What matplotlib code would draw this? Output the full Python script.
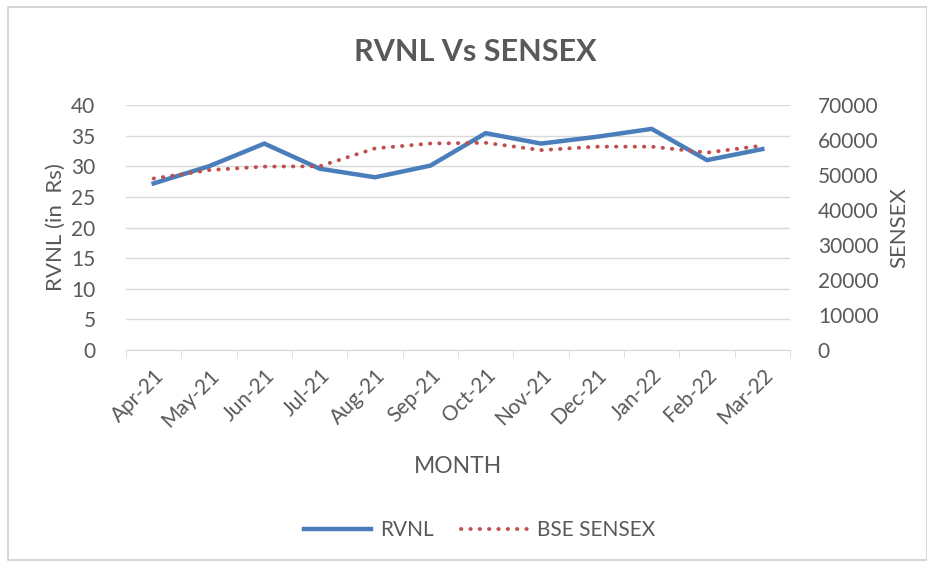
import matplotlib
matplotlib.use("Agg")
import matplotlib.pyplot as plt
from matplotlib.patches import Rectangle
from matplotlib.lines import Line2D
import numpy as np

months = ["Apr-21", "May-21", "Jun-21", "Jul-21", "Aug-21", "Sep-21",
          "Oct-21", "Nov-21", "Dec-21", "Jan-22", "Feb-22", "Mar-22"]
rvnl = [27.2, 30.0, 33.7, 29.6, 28.2, 30.1, 35.4, 33.7, 34.8, 36.1, 31.0, 32.8]
sensex = [49000, 51400, 52400, 52500, 57600, 59000, 59200, 57100, 58100, 58100, 56400, 58400]
left_ticks = [0, 5, 10, 15, 20, 25, 30, 35, 40]
right_ticks = [0, 10000, 20000, 30000, 40000, 50000, 60000, 70000]

plt.rcParams['font.family'] = ['Lato', 'DejaVu Sans']
TXT = "#595959"
BLUE = "#4A7EBB"
RED = "#C0504D"
GRID = "#D9D9D9"
DOT = (0, (0.1, 2.3))

fig = plt.figure(figsize=(9.28, 5.63), dpi=100)
fig.patches.append(Rectangle((8/928, 1-560/563), 919/928, 553/563,
                             transform=fig.transFigure, fill=False,
                             edgecolor="#D0D0D0", linewidth=1.2))

ax = fig.add_axes([126/928, 1-350/563, (790-126)/928, (350-105)/563])
ax2 = ax.twinx()

x = np.arange(len(months))
ax.plot(x, rvnl, color=BLUE, linewidth=3.2, solid_joinstyle='miter', zorder=3)
ax2.plot(x, sensex, color=RED, linewidth=2.8, linestyle=DOT,
         dash_capstyle='round', zorder=3)

ax.set_xlim(-0.5, len(months) - 0.5)
ax.set_ylim(0, 40)
ax2.set_ylim(0, 70000)
ax.set_yticks(left_ticks)
ax2.set_yticks(right_ticks)
ax.grid(axis='y', color=GRID, linewidth=1)
ax.set_axisbelow(True)

for a in (ax, ax2):
    for s in a.spines.values():
        s.set_visible(False)
ax.spines['bottom'].set_visible(True)
ax.spines['bottom'].set_color(GRID)

ax.set_xticks(x)
ax.set_xticklabels(months, rotation=45, ha='right', rotation_mode='anchor',
                   fontsize=15, color=TXT)
ax.set_xticks(np.arange(-0.5, len(months)), minor=True)
ax.tick_params(axis='x', which='major', length=0, pad=11)
ax.tick_params(axis='x', which='minor', length=6, color=GRID, direction='out')
ax.tick_params(axis='y', length=0, labelsize=15, labelcolor=TXT, pad=22)
ax2.tick_params(axis='y', length=0, labelsize=15, labelcolor=TXT, pad=20)

ax.set_xlabel("MONTH", fontsize=16.5, color=TXT, labelpad=18)
ax.set_ylabel("RVNL (in  Rs)", fontsize=16, color=TXT, labelpad=4)
ax2.set_ylabel("SENSEX", fontsize=16, color=TXT, labelpad=8)

fig.text(475/928, 1-52/563, "RVNL Vs SENSEX", ha='center', va='center',
         fontsize=22, fontweight='bold', color=TXT)

handles = [Line2D([], [], color=BLUE, linewidth=3.2),
           Line2D([], [], color=RED, linewidth=2.8, linestyle=DOT,
                  dash_capstyle='round')]
fig.legend(handles, ["RVNL", "BSE SENSEX"], loc='center',
           bbox_to_anchor=(480/928, 1-530/563), ncol=2, frameon=False,
           fontsize=15, labelcolor=TXT, handlelength=3.2, handletextpad=0.45,
           columnspacing=1.3)

fig.savefig("out.png", dpi=100)
